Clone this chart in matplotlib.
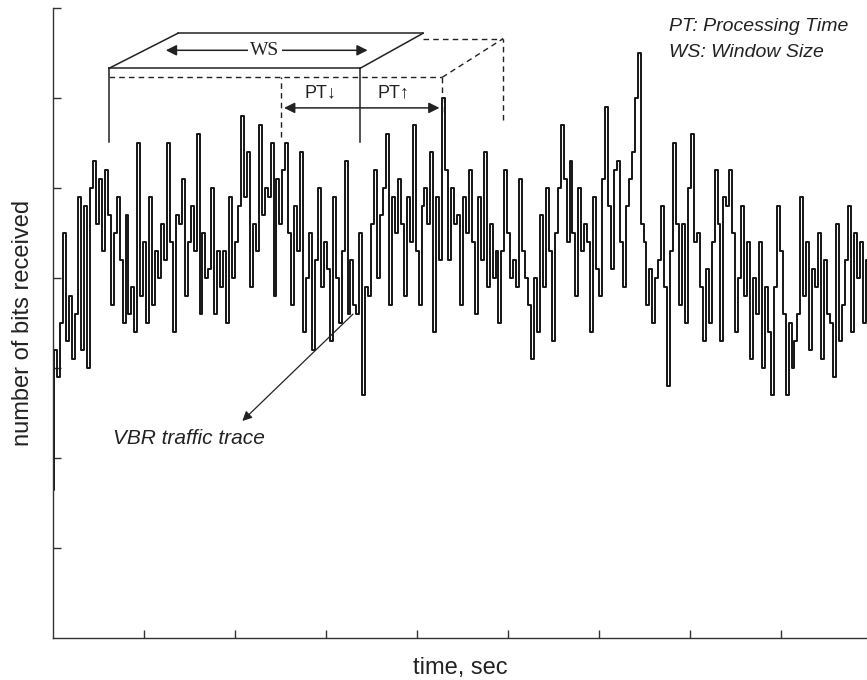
import numpy as np
import matplotlib
matplotlib.use("Agg")
import matplotlib.pyplot as plt

# VBR traffic trace (axis units 0..7)
trace = [
    1.65, 3.2, 2.9,
    3.5, 4.5, 3.3, 3.8, 3.1,
    3.6, 4.9, 3.2, 4.8, 3.0,
    5.0, 5.3, 4.6, 5.1, 4.3,
    5.2, 4.7, 3.7, 4.5, 4.9,
    4.2, 3.5, 4.7, 3.6, 3.9,
    3.4, 5.5, 3.8, 4.4, 3.5,
    4.9, 3.7, 4.3, 4.0, 4.6,
    4.2, 5.5, 4.4, 3.4, 4.7,
    4.6, 5.1, 3.8, 4.4, 4.8,
    4.3, 5.6, 3.6, 4.5, 4.0,
    4.1, 5.0, 3.6, 4.3, 3.9,
    4.3, 3.5, 4.9, 4.0, 4.4,
    4.8, 5.8, 4.9, 5.4, 3.9,
    4.6, 4.3, 5.7, 4.7, 5.0,
    4.9, 5.5, 3.8, 5.1, 4.6,
    5.2, 5.5, 4.5, 3.7, 4.8,
    4.3, 5.4, 3.4, 4.0, 4.5,
    3.2, 4.2, 5.0, 3.9, 4.4,
    4.1, 3.3, 4.9, 4.0, 3.5,
    4.3, 5.3, 3.6, 4.2, 3.7,
    3.6, 4.5, 2.7, 3.9,
    3.8, 4.6, 5.2, 4.0, 4.7,
    5.0, 5.6, 3.7, 4.9, 4.5,
    5.1, 4.6, 3.8, 4.9, 4.4,
    5.7, 4.3, 3.7, 4.8, 5.0,
    4.6, 5.4, 3.4, 4.9, 4.2,
    6.0, 5.2, 4.2, 5.0, 4.6,
    4.7, 3.7, 4.9, 4.5,
    5.2, 4.4, 3.6, 4.9, 4.2,
    5.4, 3.9, 4.6, 4.0, 4.3,
    3.5, 4.3, 5.2, 4.5, 4.0,
    4.2, 3.9, 5.1, 4.3, 4.0,
    3.7, 3.1, 4.0, 3.4, 4.7,
    3.9, 5.0, 4.3, 3.3, 4.5,
    5.0, 5.7, 5.1, 4.4, 5.3,
    4.5, 3.8, 5.0, 4.3, 4.6,
    4.4, 3.4, 4.9, 4.1, 3.8,
    5.1, 5.9, 4.8, 4.1, 5.2,
    5.3, 4.4, 3.9, 4.8, 5.1,
    5.4, 6.0, 6.5, 4.6,
    4.4, 3.7, 4.1, 3.5, 4.0,
    4.2, 4.8, 3.9,
    2.8, 4.3, 5.5, 4.6, 3.7,
    4.6, 3.5, 5.0, 5.6, 4.4,
    4.5, 3.9, 3.3, 4.1, 3.5,
    4.4, 5.2, 4.6, 3.3, 4.9,
    4.8, 5.2, 4.5, 3.4, 4.0,
    4.8, 3.8, 4.4, 3.1, 4.0,
    3.6, 4.4, 3.0, 3.9, 3.4,
    2.7, 3.9, 4.8, 4.3, 3.6,
    2.7, 3.5, 3.0, 3.3, 3.6,
    4.9, 3.8, 4.4, 3.2, 4.1,
    3.9, 4.5, 3.1, 4.2, 3.6,
    3.5, 2.9, 4.6, 3.3, 3.7,
    4.2, 4.8, 3.4, 4.5, 4.0,
    4.4, 3.5, 4.2,
]
t_end = 8.95
xticks = [1, 2, 3, 4, 5, 6, 7, 8]
yticks = [1, 2, 3, 4, 5, 6, 7]

time = np.linspace(0, t_end, len(trace))

fig = plt.figure(figsize=(8.67, 6.8), dpi=100)
ax = fig.add_axes([53 / 867, 42 / 680, 814 / 867, 630 / 680])
ax.plot(time, trace, color="#151515", lw=1.4, drawstyle="steps-mid")

ax.set_xlim(0, t_end)
ax.set_ylim(0, 7)
ax.set_xticks(xticks)
ax.set_yticks(yticks)
ax.set_xticklabels([])
ax.set_yticklabels([])
ax.tick_params(direction="in", length=6, width=1, color="#333333")
for s in ["top", "right"]:
    ax.spines[s].set_visible(False)
for s in ["left", "bottom"]:
    ax.spines[s].set_color("#333333")
    ax.spines[s].set_linewidth(1.0)

sans = ["Liberation Sans", "DejaVu Sans"]
ax.set_xlabel("time, sec", family=sans, fontsize=17, labelpad=10, color="#222222")
ax.set_ylabel("number of bits received", family=sans, fontsize=17, labelpad=10, color="#222222")

# window box (solid)
k = "#222222"
ax.plot([0.616, 0.616], [5.51, 6.33], color=k, lw=1.1)
ax.plot([3.377, 3.377], [5.51, 6.33], color=k, lw=1.1)
ax.plot([0.616, 3.377], [6.33, 6.33], color=k, lw=1.1)
ax.plot([0.616, 1.375], [6.33, 6.72], color=k, lw=1.1)
ax.plot([1.375, 4.07], [6.72, 6.72], color=k, lw=1.1)
ax.plot([3.377, 4.07], [6.33, 6.72], color=k, lw=1.1)

# shifted window (dashed)
dash = dict(color=k, lw=1.0, ls=(0, (4, 3)))
ax.plot([0.616, 4.28], [6.23, 6.23], **dash)
ax.plot([2.51, 2.51], [5.57, 6.23], **dash)
ax.plot([4.28, 4.28], [5.85, 6.23], **dash)
ax.plot([4.28, 4.95], [6.23, 6.66], **dash)
ax.plot([4.07, 4.95], [6.66, 6.66], **dash)
ax.plot([4.95, 4.95], [5.76, 6.66], **dash)

# WS arrow
ax.annotate("", xy=(1.21, 6.53), xytext=(3.49, 6.53),
            arrowprops=dict(arrowstyle="<|-|>", color=k, lw=1.1, mutation_scale=16))
ax.text(2.33, 6.53, "WS", family=["Liberation Serif", "DejaVu Serif"], fontsize=14,
        ha="center", va="center", color=k,
        bbox=dict(facecolor="white", edgecolor="none", pad=2))

# PT arrow
ax.annotate("", xy=(2.51, 5.89), xytext=(4.28, 5.89),
            arrowprops=dict(arrowstyle="<|-|>", color=k, lw=1.1, mutation_scale=16))
ax.text(2.94, 6.06, "PT↓", family=sans, fontsize=13, ha="center", va="center", color=k)
ax.text(3.74, 6.06, "PT↑", family=sans, fontsize=13, ha="center", va="center", color=k)

# legend notes
ax.text(6.77, 6.79, "PT: Processing Time", family=sans, style="italic", fontsize=14,
        ha="left", va="center", color=k)
ax.text(6.77, 6.51, "WS: Window Size", family=sans, style="italic", fontsize=14,
        ha="left", va="center", color=k)

# trace label
ax.annotate("", xy=(2.06, 2.39), xytext=(3.32, 3.62),
            arrowprops=dict(arrowstyle="-|>", color=k, lw=0.9, mutation_scale=14))
ax.text(0.66, 2.22, "VBR traffic trace", family=sans, style="italic", fontsize=15,
        ha="left", va="center", color=k)

fig.savefig("out.png", dpi=100)
